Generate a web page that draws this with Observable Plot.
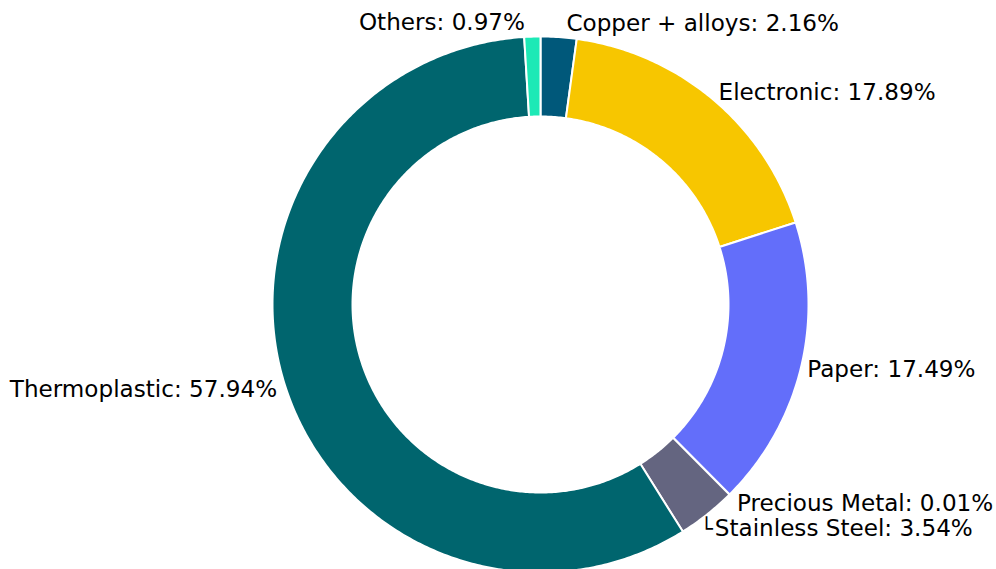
<!DOCTYPE html>
<html>
<head>
<meta charset="utf-8">
<script src="https://cdn.jsdelivr.net/npm/d3@7"></script>
<script src="https://cdn.jsdelivr.net/npm/@observablehq/plot@0.6"></script>
<style>
  html, body { margin: 0; padding: 0; background: #fff; }
  #chart { width: 996px; height: 569px; overflow: hidden; }
</style>
</head>
<body>
<div id="chart"></div>
<script>
const categories = ["Copper + alloys", "Electronic", "Paper", "Precious Metal", "Stainless Steel", "Thermoplastic", "Others"];
const shares = [2.16, 17.89, 17.49, 0.01, 3.54, 57.94, 0.97];
const colors = ["#00587a", "#f7c600", "#636efa", "#ef553b", "#646580", "#00656e", "#1de9b6"];

const W = 996, H = 569;
const cx = 540, cy = 304, R = 268, innerFrac = 188 / 268;
const FS = 23.1;

// data coordinates: unit = outer radius
const xDomain = [-cx / R, (W - cx) / R];
const yDomain = [-(H - cy) / R, cy / R];

const total = d3.sum(shares);
let cum = 0;
const slices = categories.map((c, i) => {
  const a0 = cum / total * 2 * Math.PI;
  cum += shares[i];
  const a1 = cum / total * 2 * Math.PI;
  return {category: c, value: shares[i], a0, a1, mid: (a0 + a1) / 2, color: colors[i]};
});

const polyPts = [];
for (const s of slices) {
  const n = Math.max(2, Math.ceil((s.a1 - s.a0) / 0.01));
  const pts = [];
  for (let k = 0; k <= n; k++) {
    const a = s.a0 + (s.a1 - s.a0) * k / n;
    pts.push({x: Math.sin(a), y: Math.cos(a)});
  }
  for (let k = n; k >= 0; k--) {
    const a = s.a0 + (s.a1 - s.a0) * k / n;
    pts.push({x: innerFrac * Math.sin(a), y: innerFrac * Math.cos(a)});
  }
  pts.push(pts[0]);
  for (const p of pts) polyPts.push({...p, category: s.category, color: s.color});
}

// label placement nudges in pixels (layout only, not data)
const nudge = {
  "Copper + alloys": [7, -3],
  "Others": [-7, -3],
  "Electronic": [-1, 2],
  "Paper": [-4, -1],
  "Thermoplastic": [2, 0],
  "Precious Metal": [0, 1],
  "Stainless Steel": [1, 6]
};
const labelDist = 1.04;
const labels = slices.map(s => {
  const [ox, oy] = nudge[s.category] || [0, 0];
  return {
    x: labelDist * Math.sin(s.mid) + ox / R,
    y: labelDist * Math.cos(s.mid) - oy / R,
    text: `${s.category}: ${s.value.toFixed(2)}%`,
    anchor: Math.sin(s.mid) >= 0 ? "start" : "end",
    category: s.category
  };
});
const stainless = labels.filter(l => l.category === "Stainless Steel");

const plot = Plot.plot({
  width: W,
  height: H,
  margin: 0,
  x: {domain: xDomain, axis: null},
  y: {domain: yDomain, axis: null},
  style: {fontFamily: "DejaVu Sans, sans-serif", background: "#fff", overflow: "hidden"},
  marks: [
    Plot.line(polyPts, {
      x: "x", y: "y", z: "category",
      fill: d => d.color, stroke: "#ffffff", strokeWidth: 2,
      curve: "linear-closed"
    }),
    Plot.text(labels.filter(l => l.anchor === "start"), {
      x: "x", y: "y", text: "text", textAnchor: "start",
      fontSize: FS, fill: "#000", lineAnchor: "middle"
    }),
    Plot.text(labels.filter(l => l.anchor === "end"), {
      x: "x", y: "y", text: "text", textAnchor: "end",
      fontSize: FS, fill: "#000", lineAnchor: "middle"
    }),
    Plot.text(stainless, {
      x: "x", y: "y", text: () => "└", textAnchor: "end",
      dx: -2, dy: 0,
      fontSize: 21, fill: "#000", lineAnchor: "middle"
    })
  ]
});

document.getElementById("chart").appendChild(plot);
</script>
</body>
</html>
